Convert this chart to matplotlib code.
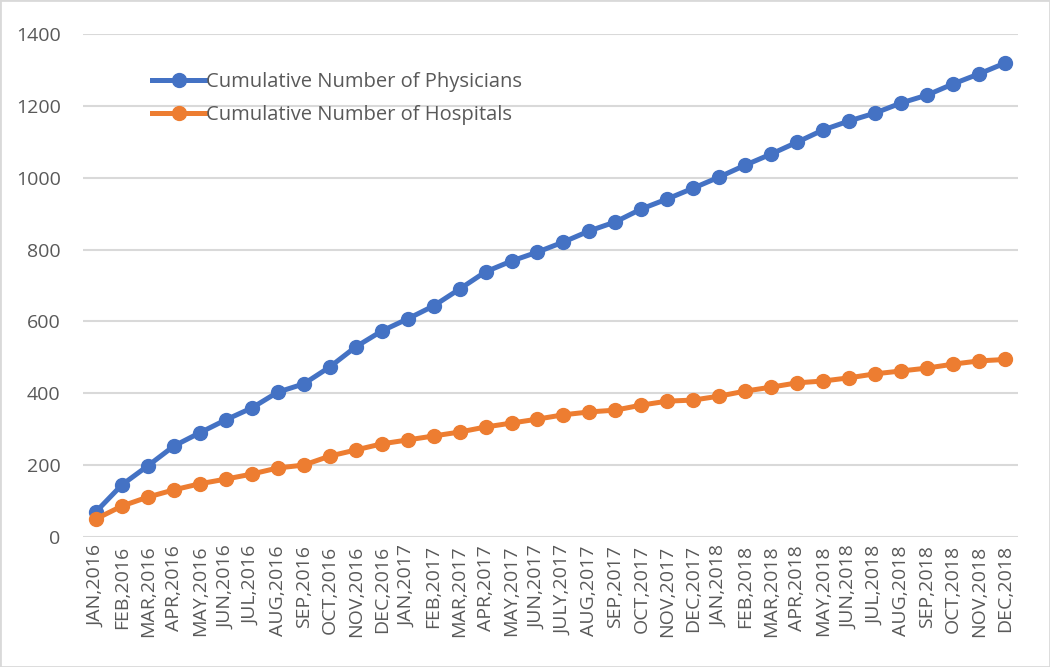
import matplotlib
matplotlib.use("Agg")
import matplotlib.pyplot as plt
from matplotlib.patches import Rectangle

months = ["JAN,2016", "FEB,2016", "MAR,2016", "APR,2016", "MAY,2016", "JUN,2016",
          "JUL,2016", "AUG,2016", "SEP,2016", "OCT,2016", "NOV,2016", "DEC,2016",
          "JAN,2017", "FEB,2017", "MAR,2017", "APR,2017", "MAY,2017", "JUN,2017",
          "JULY,2017", "AUG,2017", "SEP,2017", "OCT,2017", "NOV,2017", "DEC,2017",
          "JAN,2018", "FEB,2018", "MAR,2018", "APR,2018", "MAY,2018", "JUN,2018",
          "JUL,2018", "AUG,2018", "SEP,2018", "OCT,2018", "NOV,2018", "DEC,2018"]

physicians = [70, 145, 198, 253, 290, 326, 359, 403, 426, 473, 529, 573,
              607, 643, 690, 738, 768, 793, 821, 852, 877, 913, 941, 971,
              1002, 1035, 1066, 1099, 1133, 1158, 1180, 1208, 1230, 1261, 1289, 1319]

hospitals = [50, 86, 111, 131, 148, 161, 175, 192, 200, 225, 242, 259,
             270, 281, 292, 306, 317, 328, 340, 348, 353, 367, 378, 381,
             392, 406, 417, 429, 434, 443, 454, 462, 470, 481, 490, 494]

plt.rcParams['font.family'] = ['Open Sans', 'DejaVu Sans']
text_color = '#595959'

fig = plt.figure(figsize=(10.5, 6.67), dpi=100)
ax = fig.add_axes([0.079, 0.195, 0.8905, 0.754])

x = list(range(len(months)))
ax.plot(x, physicians, color='#4472C4', linewidth=3.6, marker='o', markersize=10,
        label='Cumulative Number of Physicians', zorder=3)
ax.plot(x, hospitals, color='#ED7D31', linewidth=3.6, marker='o', markersize=10,
        label='Cumulative Number of Hospitals', zorder=3)

ax.set_xlim(-0.5, len(months) - 0.5)
ax.set_ylim(0, 1400)
ax.set_yticks(range(0, 1401, 200))
ax.set_xticks(x)
ax.set_xticklabels(months, rotation=90, fontsize=14, color=text_color)
ax.tick_params(axis='y', labelsize=14, labelcolor=text_color, length=0, pad=16)
ax.tick_params(axis='x', length=0, pad=6)
ax.grid(axis='y', color='#d9d9d9', linewidth=1.5)
ax.set_axisbelow(True)
for s in ax.spines.values():
    s.set_visible(False)

leg = ax.legend(loc='upper left', bbox_to_anchor=(0.054, 0.96), frameon=False,
                fontsize=14.5, handlelength=2.7, handletextpad=0.0, labelspacing=0.65,
                labelcolor=text_color)

fig.patches.append(Rectangle((0, 0), 1, 1, transform=fig.transFigure, fill=False,
                             edgecolor='#d9d9d9', linewidth=2))

fig.savefig("out.png", dpi=100)
